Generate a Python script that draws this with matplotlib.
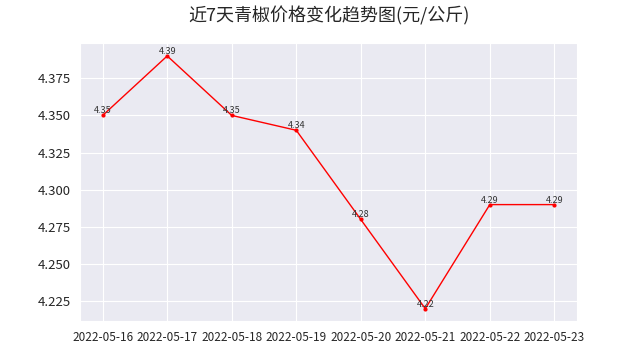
import matplotlib
matplotlib.use("Agg")
import matplotlib.pyplot as plt
import seaborn as sns

dates = ["2022-05-16", "2022-05-17", "2022-05-18", "2022-05-19",
         "2022-05-20", "2022-05-21", "2022-05-22", "2022-05-23"]
prices = [4.35, 4.39, 4.35, 4.34, 4.28, 4.22, 4.29, 4.29]

sns.set_style("darkgrid")
plt.rcParams['font.family'] = ['Noto Sans CJK SC', 'DejaVu Sans']
plt.rcParams['axes.unicode_minus'] = False

fig, ax = plt.subplots(figsize=(6.41, 3.61), dpi=100)
ax.plot(dates, prices, color='red', linewidth=1, marker='o', markersize=2)
for d, p in zip(dates, prices):
    ax.text(d, p, f'{p}', ha='center', va='bottom', fontsize=6.5, color='#333333')

ax.set_title('近7天青椒价格变化趋势图(元/公斤)', fontsize=13, pad=16)
ax.tick_params(axis='x', labelsize=8.5)
ax.tick_params(axis='y', labelsize=9.5)
ax.yaxis.set_major_formatter(matplotlib.ticker.FormatStrFormatter('%.3f'))

plt.savefig("out.png", dpi=100)
